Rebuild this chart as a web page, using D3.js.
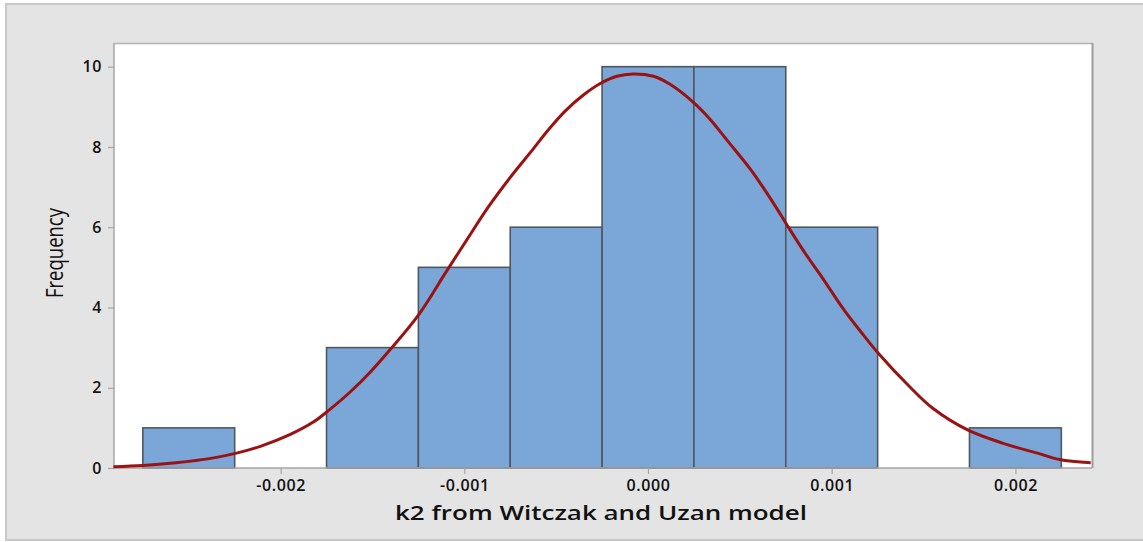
<!DOCTYPE html>
<html>
<head>
<meta charset="utf-8">
<script src="https://cdn.jsdelivr.net/npm/d3@7"></script>
<style>
  html, body { margin: 0; padding: 0; background: #ffffff; }
  svg { display: block; }
</style>
</head>
<body>
<svg id="chart" width="1143" height="542"></svg>
<script>
// Histogram bins (midpoints) and counts
const binMids = [-0.0025, -0.002, -0.0015, -0.001, -0.0005, 0.0, 0.0005, 0.001, 0.0015, 0.002];
const binCounts = [1, 0, 3, 5, 6, 10, 10, 6, 0, 1];
const binWidth = 0.0005;

// Fitted normal curve, sampled points [k2, frequency]
const curveX = [-0.00291, -0.00275, -0.00257, -0.00238, -0.00224, -0.00211, -0.00195, -0.00182,
  -0.00174, -0.00162, -0.00151, -0.00140, -0.00125, -0.00110, -0.00099, -0.00087,
  -0.00074, -0.00063, -0.00054, -0.00045, -0.00035, -0.00026, -0.00017, -0.00008, 0.00003, 0.00012, 0.00025,
  0.00034, 0.00043, 0.00056, 0.00068, 0.00076, 0.00086, 0.00094, 0.00107, 0.00117, 0.00125,
  0.00143, 0.00155, 0.00174, 0.00193, 0.00212, 0.00224, 0.00241];
const curveY = [0.03, 0.06, 0.13, 0.24, 0.37, 0.54, 0.83, 1.15,
  1.43, 1.90, 2.40, 2.97, 3.81, 4.88, 5.66, 6.50,
  7.30, 7.92, 8.44, 8.90, 9.30, 9.58, 9.76, 9.82, 9.76, 9.56, 9.10,
  8.68, 8.17, 7.43, 6.62, 6.03, 5.32, 4.80, 3.92, 3.33, 2.88,
  2.00, 1.49, 0.95, 0.62, 0.37, 0.21, 0.13];

const xTicks = [-0.002, -0.001, 0.000, 0.001, 0.002];
const yTicks = [0, 2, 4, 6, 8, 10];

const xTitle = "k2 from Witczak and Uzan model";
const yTitle = "Frequency";

const svg = d3.select("#chart");
const W = 1143, H = 542;
const plot = { left: 114, right: 1092, top: 43, bottom: 468 };

// Outer panel
svg.append("rect")
  .attr("x", 6).attr("y", 4)
  .attr("width", W).attr("height", H - 6)
  .attr("fill", "#e4e4e4")
  .attr("stroke", "#c8c8c8").attr("stroke-width", 2);

const x = d3.scaleLinear().domain([-0.002907, 0.002417]).range([plot.left, plot.right]);
const y = d3.scaleLinear().domain([0, 10.59]).range([plot.bottom, plot.top]);

// Data region
svg.append("rect")
  .attr("x", plot.left).attr("y", plot.top)
  .attr("width", plot.right - plot.left).attr("height", plot.bottom - plot.top)
  .attr("fill", "#ffffff");

// Frame lines
svg.append("line")
  .attr("x1", plot.left).attr("x2", plot.right + 1)
  .attr("y1", plot.top + 0.5).attr("y2", plot.top + 0.5)
  .attr("stroke", "#b4b4b4").attr("stroke-width", 1.5);
svg.append("line")
  .attr("x1", plot.right + 0.5).attr("x2", plot.right + 0.5)
  .attr("y1", plot.top).attr("y2", plot.bottom)
  .attr("stroke", "#9c9c9c").attr("stroke-width", 2);

// Bars
const bars = binMids.map((m, i) => ({ m, c: binCounts[i] })).filter(d => d.c > 0);
svg.append("g").selectAll("rect")
  .data(bars)
  .join("rect")
  .attr("x", d => x(d.m - binWidth / 2))
  .attr("y", d => y(d.c))
  .attr("width", d => x(d.m + binWidth / 2) - x(d.m - binWidth / 2))
  .attr("height", d => y(0) - y(d.c))
  .attr("fill", "#7ba7d8")
  .attr("stroke", "#4f5761")
  .attr("stroke-width", 1.6);

// Axes
const xAxis = d3.axisBottom(x).tickValues(xTicks).tickFormat(d3.format(".3f")).tickSize(6).tickPadding(6);
const yAxis = d3.axisLeft(y).tickValues(yTicks).tickFormat(d3.format("d")).tickSize(6).tickPadding(6);

const gx = svg.append("g").attr("transform", `translate(0,${plot.bottom})`).call(xAxis);
const gy = svg.append("g").attr("transform", `translate(${plot.left},0)`).call(yAxis);

[gx, gy].forEach(g => {
  g.select(".domain").attr("stroke", "#a6a6a6").attr("stroke-width", 1.5);
  g.selectAll(".tick line").attr("stroke", "#a6a6a6").attr("stroke-width", 1.2);
  g.selectAll(".tick text")
    .attr("fill", "#111111")
    .style("font-family", "'Open Sans', 'DejaVu Sans', sans-serif")
    .style("font-weight", "600")
    .style("font-size", "16px")
    .style("letter-spacing", "0.6px");
});
gx.selectAll(".tick text").text(d => d3.format(".3f")(d).replace("−", "-"));
gy.select(".domain").attr("d", `M0,${plot.top}V${plot.bottom}`);
gx.select(".domain").attr("d", `M${plot.left},0H${plot.right}`);

// Fitted curve
const pts = curveX.map((v, i) => [v, curveY[i]]);
svg.append("path")
  .datum(pts)
  .attr("fill", "none")
  .attr("stroke", "#9a1212")
  .attr("stroke-width", 3)
  .attr("stroke-linejoin", "round")
  .attr("d", d3.line().x(d => x(d[0])).y(d => y(d[1])).curve(d3.curveCatmullRom.alpha(0.5)));

// Axis titles
svg.append("text")
  .attr("x", 601).attr("y", 520)
  .attr("text-anchor", "middle")
  .attr("textLength", 412).attr("lengthAdjust", "spacingAndGlyphs")
  .style("font-family", "'Open Sans', 'DejaVu Sans', sans-serif")
  .style("font-weight", "600")
  .style("font-size", "20px")
  .attr("fill", "#111111")
  .text(xTitle);

svg.append("text")
  .attr("transform", "translate(63,253) rotate(-90)")
  .attr("text-anchor", "middle")
  .attr("textLength", 90).attr("lengthAdjust", "spacingAndGlyphs")
  .style("font-family", "'Open Sans', 'DejaVu Sans', sans-serif")
  .style("font-weight", "400")
  .style("font-size", "23px")
  .attr("fill", "#111111")
  .text(yTitle);
</script>
</body>
</html>
